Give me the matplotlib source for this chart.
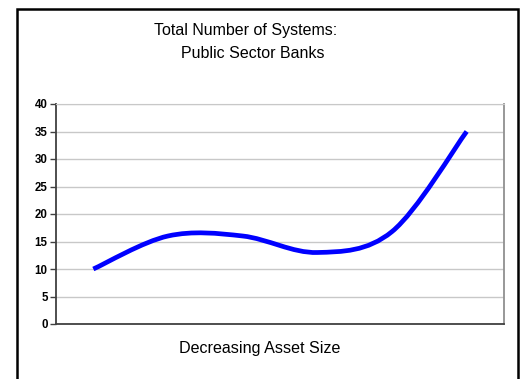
import matplotlib
matplotlib.use("Agg")
import matplotlib.pyplot as plt
from matplotlib.path import Path
from matplotlib.patches import PathPatch, Rectangle
from matplotlib.ticker import MultipleLocator

plt.rcParams['font.family'] = ['Liberation Sans', 'DejaVu Sans']

# bank groups ordered by decreasing asset size
groups = [1, 2, 3, 4, 5, 6]
systems = [10, 16, 16, 13, 16.8, 35]

title_1 = "Total Number of Systems:"
title_2 = "Public Sector Banks"
x_label = "Decreasing Asset Size"


def smooth_path(xs, ys):
    # bezier segments through every point, like a spreadsheet "smoothed line"
    pts = list(zip(xs, ys))
    n = len(pts)
    verts = [pts[0]]
    codes = [Path.MOVETO]
    for i in range(n - 1):
        p0 = pts[max(i - 1, 0)]
        p1 = pts[i]
        p2 = pts[i + 1]
        p3 = pts[min(i + 2, n - 1)]
        c1 = (p1[0] + (p2[0] - p0[0]) / 6, p1[1] + (p2[1] - p0[1]) / 6)
        c2 = (p2[0] - (p3[0] - p1[0]) / 6, p2[1] - (p3[1] - p1[1]) / 6)
        verts += [c1, c2, p2]
        codes += [Path.CURVE4] * 3
    return Path(verts, codes)


fig = plt.figure(figsize=(5.24, 3.79), dpi=100)
fig.patch.set_facecolor('white')

# outer chart border (bottom edge runs off the image)
fig.patches.append(Rectangle((17 / 524, -0.05), 501 / 524, 1 - 9 / 379 + 0.05,
                             transform=fig.transFigure, fill=False,
                             edgecolor='black', linewidth=1.8))

ax = fig.add_axes([56 / 524, 1 - 324 / 379, 448 / 524, 220 / 379])
ax.set_xlim(0.5, len(groups) + 0.5)
ax.set_ylim(0, 40)
ax.yaxis.set_major_locator(MultipleLocator(5))
ax.set_xticks([])
ax.grid(axis='y', color='#c8c8c8', linewidth=1.0)
ax.set_axisbelow(True)

for side in ['left', 'bottom']:
    ax.spines[side].set_color('#404040')
    ax.spines[side].set_linewidth(1.3)
ax.spines['top'].set_color('#c8c8c8')
ax.spines['right'].set_color('#909090')
ax.spines['right'].set_linewidth(1.3)

ax.tick_params(axis='y', direction='out', length=4, width=1, color='#404040',
               labelsize=8.3, pad=2)
for lab in ax.get_yticklabels():
    lab.set_fontweight('bold')

ax.add_patch(PathPatch(smooth_path(groups, systems), fill=False,
                       edgecolor='#0000ff', linewidth=3.4, capstyle='butt',
                       joinstyle='round'))

fig.text(246 / 524, 1 - 31 / 379, title_1, ha='center', va='center', fontsize=11.5)
fig.text(252.5 / 524, 1 - 53 / 379, title_2, ha='center', va='center', fontsize=11.5)
fig.text(260 / 524, 1 - 349 / 379, x_label, ha='center', va='center', fontsize=11.6)

plt.savefig('out.png', dpi=100, facecolor='white')
